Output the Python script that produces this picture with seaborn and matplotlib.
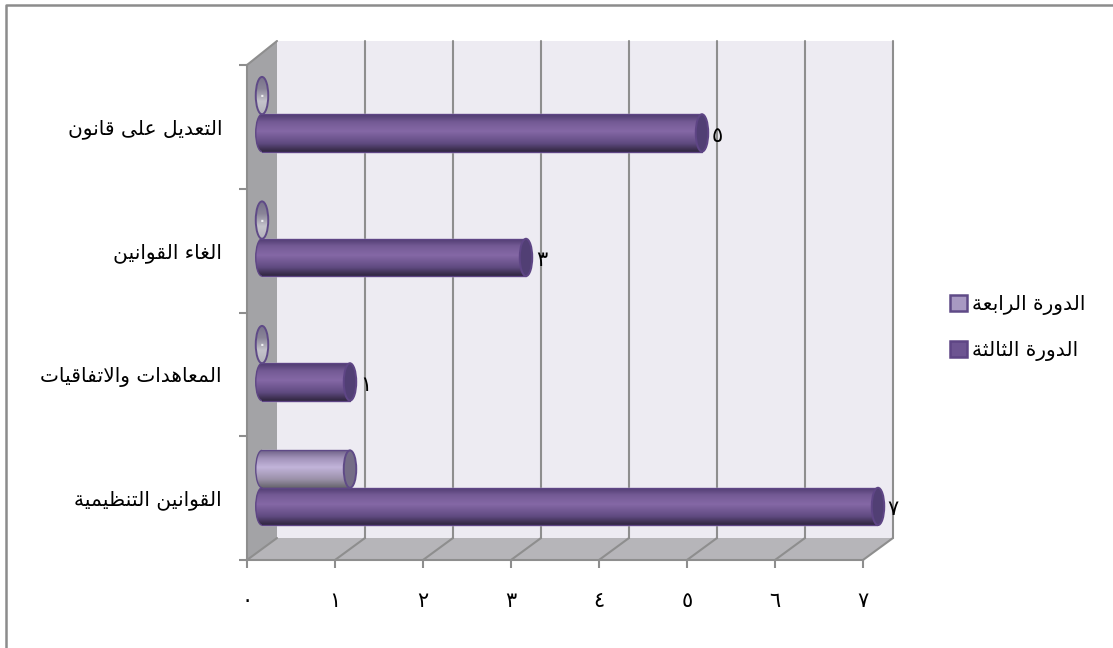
import unicodedata
import matplotlib
matplotlib.use('Agg')
import matplotlib.pyplot as plt
from matplotlib.colors import LinearSegmentedColormap
from matplotlib.patches import Arc, Ellipse, Polygon, Rectangle
from matplotlib.transforms import Affine2D
import numpy as np
import pandas as pd
import seaborn as sns

categories = ['التعديل على قانون', 'الغاء القوانين', 'المعاهدات والاتفاقيات', 'القوانين التنظيمية']
session_3 = [5, 3, 1, 7]
session_4 = [0, 0, 0, 1]
session_names = ['الدورة الرابعة', 'الدورة الثالثة']
x_ticks = [0, 1, 2, 3, 4, 5, 6, 7]
x_labels = ['٠', '١', '٢', '٣', '٤', '٥', '٦', '٧']

W, H = 1113, 648


# matplotlib does no arabic shaping, so map to presentation forms and reverse
forms = {}
for code in range(0xFE70, 0xFEFD):
    parts = unicodedata.decomposition(chr(code)).split()
    if len(parts) == 2 and parts[0] in ('<isolated>', '<final>', '<initial>', '<medial>'):
        forms[(chr(int(parts[1], 16)), parts[0])] = chr(code)
right_only = set('اأإآدذرزوةى')
no_join = set(' ء')


def shape(text):
    out = []
    for i, c in enumerate(text):
        if c in no_join:
            out.append(c)
            continue
        before = text[i - 1] if i > 0 else ' '
        after = text[i + 1] if i < len(text) - 1 else ' '
        join_prev = before not in no_join and before not in right_only
        join_next = after not in no_join and c not in right_only
        if c == 'ا' and before == 'ل':
            continue
        if c == 'ل' and after == 'ا':
            out.append('\uFEFC' if join_prev else '\uFEFB')
            continue
        if join_prev and join_next:
            tag = '<medial>'
        elif join_prev:
            tag = '<final>'
        elif join_next:
            tag = '<initial>'
        else:
            tag = '<isolated>'
        out.append(forms.get((c, tag), c))
    return ''.join(out)[::-1]


sns.set_theme(style='white', rc={'font.family': ['DejaVu Sans']})

cat_labels = [shape(c) for c in categories]
names = [shape(n) for n in session_names]
df = pd.DataFrame({
    'category': cat_labels * 2,
    'value': session_4 + session_3,
    'session': [names[0]] * 4 + [names[1]] * 4,
})

fig = plt.figure(figsize=(W / 100, H / 100), dpi=100, facecolor='white')
px = Affine2D().scale(1 / W, -1 / H).translate(0, 1) + fig.transFigure


def place(left, top, right, bottom):
    return [left / W, 1 - bottom / H, (right - left) / W, (bottom - top) / H]


# outer frame, only left and top are inside the picture
fig.add_artist(plt.Line2D([6, 6, W], [H, 5, 5], transform=px, color='#8c8c8c', lw=1.8))

# front plane: carries the axes, ticks and the walls
front = fig.add_axes(place(247, 65, 863, 560), facecolor='none', zorder=1)
front.set_xlim(0, 7)
front.set_ylim(3.5, -0.5)

grid = '#8e8e8e'
front.add_patch(Polygon([(277, 41), (893, 41), (893, 538), (277, 538)], transform=px, fc='#edebf2', ec='none', clip_on=False, zorder=0))
front.add_patch(Polygon([(247, 65), (277, 41), (277, 538), (247, 560)], transform=px, fc='#a3a3a6', ec='none', clip_on=False, zorder=0.1))
front.add_patch(Polygon([(247, 560), (277, 538), (893, 538), (863, 560)], transform=px, fc='#b6b5b9', ec='none', clip_on=False, zorder=0.1))
for t in x_ticks:
    p = 247 + 88 * t
    if t > 0:
        front.plot([p + 30, p + 30], [41, 538], transform=px, color=grid, lw=1.5, clip_on=False, zorder=0.2)
    front.plot([p, p + 30], [560, 538], transform=px, color=grid, lw=1.5, clip_on=False, zorder=0.2)
front.plot([247, 277], [65, 41], transform=px, color=grid, lw=1.5, clip_on=False, zorder=0.2)

sns.despine(ax=front, top=True, right=True)
for side in ('left', 'bottom'):
    front.spines[side].set_color(grid)
    front.spines[side].set_linewidth(1.5)

front.set_xticks(x_ticks, x_labels)
front.set_yticks(np.arange(-0.5, 4, 1), [])
front.set_yticks(np.arange(4), cat_labels, minor=True)
front.tick_params(axis='x', length=6, width=1.5, color=grid, pad=16.5, labelsize=15, labelcolor='black', bottom=True)
front.tick_params(axis='y', which='major', length=6, width=1.5, color=grid, left=True)
front.tick_params(axis='y', which='minor', length=0, pad=18, labelsize=14.5, labelcolor='black')

# bars sit half way through the depth of the box
ax = fig.add_axes(place(262, 52, 878, 550), facecolor='none', zorder=2)
palette = {names[0]: '#a899c2', names[1]: '#6d5491'}
sns.barplot(data=df, y='category', x='value', hue='session', hue_order=names, order=cat_labels,
            orient='h', palette=palette, width=0.6, gap=0, saturation=1, ax=ax)
ax.set_xlim(0, 7)
ax.set_ylim(3.5, -0.5)
ax.axis('off')

styles = [
    {'stops': ['#6f6288', '#a091b8', '#c2b4da', '#9a90a8', '#66646c'], 'cap': '#746c86', 'edge': '#5f4a87'},
    {'stops': ['#4e3a6e', '#735a94', '#8568a6', '#5f4a80', '#30263f'], 'cap': '#513f74', 'edge': '#5e4585'},
]
zero_ramp = LinearSegmentedColormap.from_list('z', ['#77708a', '#8a8598', '#c4c3cb', '#b4b3bc'])
rx = 12.5 / 88
img = np.linspace(0, 1, 64).reshape(-1, 1)
for cont, st in zip(ax.containers, styles):
    ramp = LinearSegmentedColormap.from_list('c', list(zip([0, 0.2, 0.45, 0.78, 1], st['stops'])))
    for bar in cont:
        x1, y0, h = bar.get_width(), bar.get_y(), bar.get_height()
        yc = y0 + h / 2
        if x1 == 0:
            # zero bars only show their end cap, with the label squeezed inside
            cap = Ellipse((0, yc), rx, h, fc='none', ec=st['edge'], lw=1.4, zorder=5, clip_on=False)
            ax.add_patch(cap)
            im = ax.imshow(img, cmap=zero_ramp, aspect='auto', extent=(-rx, rx, y0 + h, y0), zorder=4)
            im.set_clip_box(fig.bbox)
            im.set_clip_path(cap)
            ax.text(0, yc, x_labels[0], ha='center', va='center', fontsize=14, color='#eeeef2', zorder=6)
            continue
        left = Ellipse((0, yc), rx, h, fc='none', ec='none', clip_on=False)
        ax.add_patch(left)
        body = Rectangle((0, y0), x1, h, fc='none', ec='none', clip_on=False)
        ax.add_patch(body)
        for clip in (left, body):
            im = ax.imshow(img, cmap=ramp, aspect='auto', extent=(-rx, x1, y0 + h, y0), zorder=3)
            im.set_clip_box(fig.bbox)
            im.set_clip_path(clip)
        ax.plot([0, x1], [y0, y0], color=st['edge'], lw=1, zorder=4)
        ax.plot([0, x1], [y0 + h, y0 + h], color=st['edge'], lw=1, zorder=4)
        ax.add_patch(Arc((0, yc), rx, h, theta1=90, theta2=270, ec=st['edge'], lw=1, zorder=4, clip_on=False))
        ax.add_patch(Ellipse((x1, yc), rx, h, fc=st['cap'], ec=st['edge'], lw=1.4, zorder=5, clip_on=False))
ax.set_xlim(0, 7)
ax.set_ylim(3.5, -0.5)

value_labels = ax.bar_label(ax.containers[1], labels=[x_labels[v] for v in session_3], padding=7,
                            fontsize=15, color='black', zorder=6)
for lab in value_labels:
    lab.xyann = (lab.xyann[0], -2)

sns.move_legend(ax, 'center left', bbox_to_anchor=(950 / W, 1 - 328 / H), bbox_transform=fig.transFigure,
                title=None, frameon=False, fontsize=14.5, handlelength=0.85, handleheight=0.85,
                handletextpad=0.25, labelspacing=1.3, borderpad=0, borderaxespad=0)
leg = ax.get_legend()
for handle, st, fc in zip(leg.legend_handles, styles, palette.values()):
    handle.set_edgecolor(st['edge'])
    handle.set_linewidth(1.8)
    handle.set_facecolor(fc)
for txt in leg.get_texts():
    txt.set_color('black')

fig.savefig('out.png', dpi=100, facecolor='white')
